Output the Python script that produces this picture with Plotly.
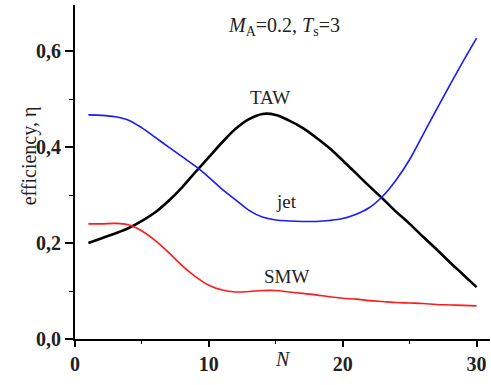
import plotly.graph_objects as go

# Number of elements N
n = list(range(1, 31))

# Efficiency curves
eta_taw = [0.200, 0.210, 0.220, 0.231, 0.246, 0.264, 0.288, 0.316, 0.348, 0.379,
           0.410, 0.438, 0.458, 0.469, 0.467, 0.455, 0.440, 0.420, 0.398, 0.372,
           0.345, 0.318, 0.292, 0.265, 0.240, 0.213, 0.187, 0.160, 0.134, 0.108]
eta_jet = [0.467, 0.466, 0.463, 0.456, 0.440, 0.420, 0.400, 0.380, 0.360, 0.337,
           0.312, 0.290, 0.268, 0.254, 0.248, 0.246, 0.245, 0.245, 0.247, 0.251,
           0.260, 0.274, 0.298, 0.332, 0.374, 0.426, 0.478, 0.529, 0.579, 0.627]
eta_smw = [0.240, 0.240, 0.241, 0.238, 0.225, 0.205, 0.180, 0.153, 0.130, 0.112,
           0.102, 0.098, 0.099, 0.101, 0.101, 0.098, 0.095, 0.092, 0.088, 0.085,
           0.083, 0.080, 0.078, 0.076, 0.075, 0.074, 0.072, 0.071, 0.070, 0.069]

x_ticks = [0, 10, 20, 30]
y_ticks = [0.0, 0.2, 0.4, 0.6]
y_tick_text = ["0,0", "0,2", "0,4", "0,6"]

SERIF = "Liberation Serif, Times New Roman, serif"

fig = go.Figure()
fig.add_trace(go.Scatter(x=n, y=eta_taw, mode="lines", line=dict(color="black", width=2.6, shape="spline")))
fig.add_trace(go.Scatter(x=n, y=eta_jet, mode="lines", line=dict(color="#1a1aff", width=1.6, shape="spline")))
fig.add_trace(go.Scatter(x=n, y=eta_smw, mode="lines", line=dict(color="#ff1a1a", width=1.6, shape="spline")))

label_font = dict(family=SERIF, size=19, color="#222")
annotations = [
    dict(x=14.6, y=0.504, text="TAW", showarrow=False, font=label_font),
    dict(x=15.8, y=0.286, text="jet", showarrow=False, font=label_font),
    dict(x=15.8, y=0.131, text="SMW", showarrow=False, font=label_font),
    dict(x=15.6, y=0.652, text="<i>M</i><sub>A</sub>=0.2, <i>T</i><sub>s</sub>=3",
         showarrow=False, font=dict(family=SERIF, size=20, color="#222")),
    dict(x=0.5, y=-0.099, xref="paper", yref="paper", text="<i>N</i>", showarrow=False,
         font=dict(family=SERIF, size=20, color="#222")),
    dict(x=-0.14, y=0.548, xref="paper", yref="paper", text="efficiency, η", textangle=-90,
         showarrow=False, font=dict(family=SERIF, size=20, color="#222")),
]

fig.update_layout(
    width=491, height=385,
    margin=dict(l=75, r=1, t=5, b=46),
    paper_bgcolor="white", plot_bgcolor="white",
    showlegend=False,
    annotations=annotations,
    xaxis=dict(range=[0, 31], tickvals=x_ticks, ticks="outside", ticklen=6, tickwidth=1.5,
               showline=True, linecolor="black", linewidth=1.8, showgrid=False, zeroline=False,
               tickfont=dict(family=SERIF, size=20, color="#222", weight="bold"),
               minor=dict(tickvals=[5, 15, 25], ticks="outside", ticklen=3, tickwidth=1.2, tickcolor="black"),
               tickcolor="black"),
    yaxis=dict(range=[0, 0.696], tickvals=y_ticks, ticktext=y_tick_text, ticks="outside", ticklen=8,
               tickwidth=1.5, showline=True, linecolor="black", linewidth=1.8, showgrid=False,
               zeroline=False, tickfont=dict(family=SERIF, size=20, color="#222", weight="bold"),
               minor=dict(tickvals=[0.1, 0.3, 0.5], ticks="outside", ticklen=4, tickwidth=1.2, tickcolor="black"),
               tickcolor="black"),
)

fig.write_html("out.html")
